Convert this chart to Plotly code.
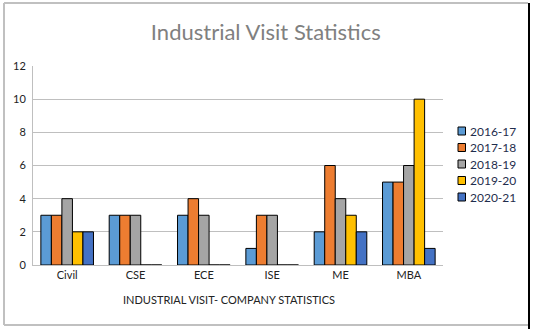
import plotly.graph_objects as go

categories = ["Civil", "CSE", "ECE", "ISE", "ME", "MBA"]
series_names = ["2016-17", "2017-18", "2018-19", "2019-20", "2020-21"]
v2016_17 = [3, 3, 3, 1, 2, 5]
v2017_18 = [3, 3, 4, 3, 6, 5]
v2018_19 = [4, 3, 3, 3, 4, 6]
v2019_20 = [2, 0, 0, 0, 3, 10]
v2020_21 = [2, 0, 0, 0, 2, 1]
series_values = [v2016_17, v2017_18, v2018_19, v2019_20, v2020_21]
colors = ["#5b9bd5", "#ed7d31", "#a5a5a5", "#ffc000", "#4472c4"]
y_ticks = [0, 2, 4, 6, 8, 10, 12]

W, H = 538, 334
L, R, T, B = 33, 443, 66, 265

fig = go.Figure()
for name, vals, c in zip(series_names, series_values, colors):
    fig.add_trace(go.Bar(x=categories, y=vals, name=name, showlegend=False,
                         marker=dict(color=c, line=dict(color="black", width=1))))

def px(x):
    return (x - L) / (R - L)

def py(y):
    return (B - y) / (B - T)

font = "Lato, 'Open Sans', sans-serif"
fig.update_layout(
    width=W, height=H,
    margin=dict(l=L, r=W - R, t=T, b=H - B, autoexpand=False),
    paper_bgcolor="white", plot_bgcolor="white",
    barmode="group", bargap=0.23, bargroupgap=0,
    font=dict(family=font, size=11, color="#222"),
    title=dict(text="Industrial Visit Statistics", x=0.494, xanchor="center",
               y=1 - 32 / H, yanchor="middle", yref="container",
               font=dict(size=22, color="#808080", family=font)),
    xaxis=dict(showline=True, linecolor="#bfbfbf", linewidth=1, ticks="",
               tickfont=dict(size=11, color="#222")),
    yaxis=dict(range=[0, 12], tickvals=y_ticks, showgrid=True, gridcolor="#bfbfbf",
               gridwidth=1, showline=True, linecolor="#bfbfbf", zeroline=False,
               tickfont=dict(size=11, color="#222"), ticks="", ticklabelstandoff=4),
    showlegend=False,
)
fig.add_annotation(text="INDUSTRIAL VISIT- COMPANY STATISTICS", xref="paper", yref="paper",
                   x=px(229), y=py(299), showarrow=False, xanchor="center", yanchor="middle",
                   font=dict(size=11, color="#222"))

# legend (drawn manually to match spacing)
for i, (name, c) in enumerate(zip(series_names, colors)):
    cy = 131 + i * 16.5
    fig.add_shape(type="rect", xref="paper", yref="paper",
                  x0=px(458), x1=px(465.5), y0=py(cy - 4), y1=py(cy + 4),
                  fillcolor=c, line=dict(color="black", width=1))
    fig.add_annotation(text=name, xref="paper", yref="paper", x=px(467.5), y=py(cy),
                       showarrow=False, xanchor="left", yanchor="middle",
                       font=dict(size=12, color="#1f2d4d"))

# outer frame
fig.add_shape(type="line", xref="paper", yref="paper", x0=px(4), x1=px(4), y0=py(3), y1=py(325),
              line=dict(color="#c0c0c0", width=2))
fig.add_shape(type="line", xref="paper", yref="paper", x0=px(4), x1=px(528), y0=py(3), y1=py(3),
              line=dict(color="#c0c0c0", width=2))
fig.add_shape(type="line", xref="paper", yref="paper", x0=px(4), x1=px(528), y0=py(325), y1=py(325),
              line=dict(color="#c0c0c0", width=2))
fig.add_shape(type="line", xref="paper", yref="paper", x0=px(529), x1=px(529), y0=py(3), y1=py(329),
              line=dict(color="black", width=2))

fig.write_html("out.html")
